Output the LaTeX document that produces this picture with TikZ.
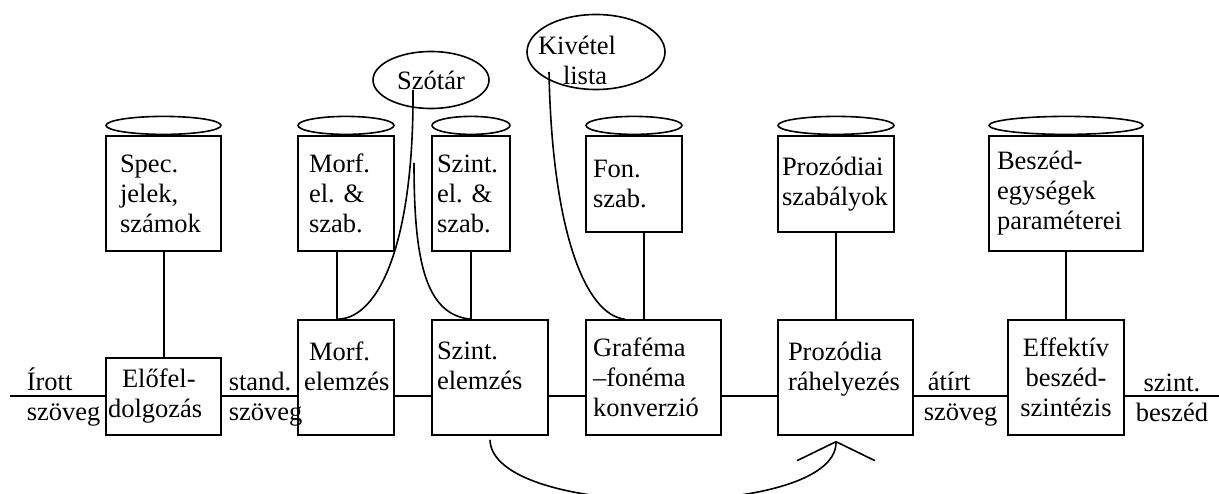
\documentclass[tikz,border=0pt]{standalone}
\usepackage{fontspec}
\setmainfont{Liberation Serif}
\usepackage{tikz}
\usetikzlibrary{shapes,arrows.meta,positioning,calc}

\begin{document}
\begin{tikzpicture}[
    x=1pt, y=-1pt,
    font=\fontsize{26.5}{30}\selectfont,
    line width=1.6pt,
    box/.style={rectangle, draw, align=left, inner sep=0pt},
    lid/.style={ellipse, draw, inner sep=0pt, minimum height=18pt},
    dict/.style={ellipse, draw, inner sep=0pt, align=left},
    lbl/.style={align=left, inner sep=0pt},
    arr/.style={-{Straight Barb[length=19pt, width=78pt]}}
]
\useasboundingbox (0,0) rectangle (1219,494);
% Knowledge bases (top row)
\node[box, minimum width=115pt, minimum height=115pt, text width=87pt]  (spec)    at (163.5,193.5) {Spec.\\jelek,\\számok};
\node[box, minimum width=96pt,  minimum height=115pt, text width=74pt]  (morfsz)  at (346,193.5)   {Morf.\\el.\ \&\\szab.};
\node[box, minimum width=78pt,  minimum height=115pt, text width=68pt]  (szintsz) at (471,193.5)   {Szint.\\el.\ \&\\szab.};
\node[box, minimum width=96pt,  minimum height=96pt,  text width=82pt]  (fon)     at (634,184)     {Fon.\\szab.};
\node[box, minimum width=116pt, minimum height=96pt,  text width=108pt] (prozsz)  at (836,184)     {Prozódiai\\szabályok};
\node[box, minimum width=154pt, minimum height=115pt, text width=138pt] (besz)    at (1066,193.5)  {Beszéd-\\egységek\\paraméterei};
\foreach \n/\w in {spec/115, morfsz/96, szintsz/78, fon/96, prozsz/116, besz/154}
    \node[lid, minimum width=\w pt, above=0pt of \n] (\n lid) {};
% Processing chain (bottom row)
\node[box, minimum width=115pt, minimum height=77pt,  text width=111pt] (elofel)  at (163.5,396.5) {\hspace*{14pt}Előfel-\\dolgozás};
\node[box, minimum width=96pt,  minimum height=115pt, text width=84pt]  (morfel)  at (346,377.5)   {\hspace*{5pt}Morf.\\elemzés\\[-7pt]\mbox{}};
\node[box, minimum width=116pt, minimum height=115pt, text width=106pt] (szintel) at (490,377.5)   {Szint.\\elemzés\\[-7pt]\mbox{}};
\node[box, minimum width=135pt, minimum height=115pt, text width=121pt] (graf)    at (653.5,377.5) {Graféma\\--fonéma\\konverzió};
\node[box, minimum width=135pt, minimum height=115pt, text width=115pt] (prozra)  at (845.5,377.5) {Prozódia\\ráhelyezés\\[-7pt]\mbox{}};
\node[box, minimum width=116pt, minimum height=115pt, align=center]    (eff)     at (1066,377.5)  {Effektív\\beszéd-\\szintézis};
% Dictionaries
\node[dict, minimum width=116pt, minimum height=57pt] (szotar)  at (431,80) {Szótár};
\node[dict, minimum width=138pt, minimum height=75pt] (kivetel) at (596,52) {};
\node[lbl] (kivtxt) at ($(kivetel.center)+(-19,8)$) {Kivétel\\\hspace*{25pt}lista};
% Stream labels
\node[lbl, anchor=west] (irott) at (26,396.5)  {Írott\\szöveg};
\node[lbl, anchor=west] (stand) at (228,399)   {stand.\\szöveg};
\node[lbl, anchor=west] (atirt) at (923,399)   {\hspace*{4pt}átírt\\szöveg};
\node[lbl, align=center] (szbeszed) at (1172,398) {szint.\\beszéd};
% Main stream
\coordinate (start) at (10,396);
\coordinate (stop)  at (1219,396);
\draw (start) -- (start -| elofel.west);
\foreach \a/\b in {elofel/morfel, morfel/szintel, szintel/graf, graf/prozra, prozra/eff}
    \draw (start -| \a.east) -- (start -| \b.west);
\draw (start -| eff.east) -- (stop);
% Rule links
\draw ([xshift=0.5pt]spec.south) -- ([xshift=0.5pt]elofel.north);
\draw ([xshift=-9pt]morfsz.south) -- ([xshift=-9pt]morfel.north);
\draw (szintsz.south) -- (szintsz.south |- szintel.north);
\draw ([xshift=10pt]fon.south) -- ([xshift=10pt]fon.south |- graf.north);
\draw (prozsz.south) -- (prozsz.south |- prozra.north);
\draw (besz) -- (eff);
% Lexicon links
\coordinate (szfoot)   at (413,90);
\coordinate (szbranch) at (414,163);
\coordinate (kivfoot)  at (549,72);
\draw (szfoot) .. controls (414,240) and (380,318) .. ([xshift=-8pt]morfel.north);
\draw (szbranch) .. controls (414,260) and (425,315) .. (szintsz.south |- szintel.north);
\draw (kivfoot) .. controls (552,230) and (585,315) .. ([xshift=-28.5pt]graf.north);
% Feedback to prosody
\draw[arr] ($(szintel.south)+(0,4)$) .. controls (492,520) and (836,520) .. ($(prozra.south -| prozsz.south)+(0,5)$);
\end{tikzpicture}
\end{document}
